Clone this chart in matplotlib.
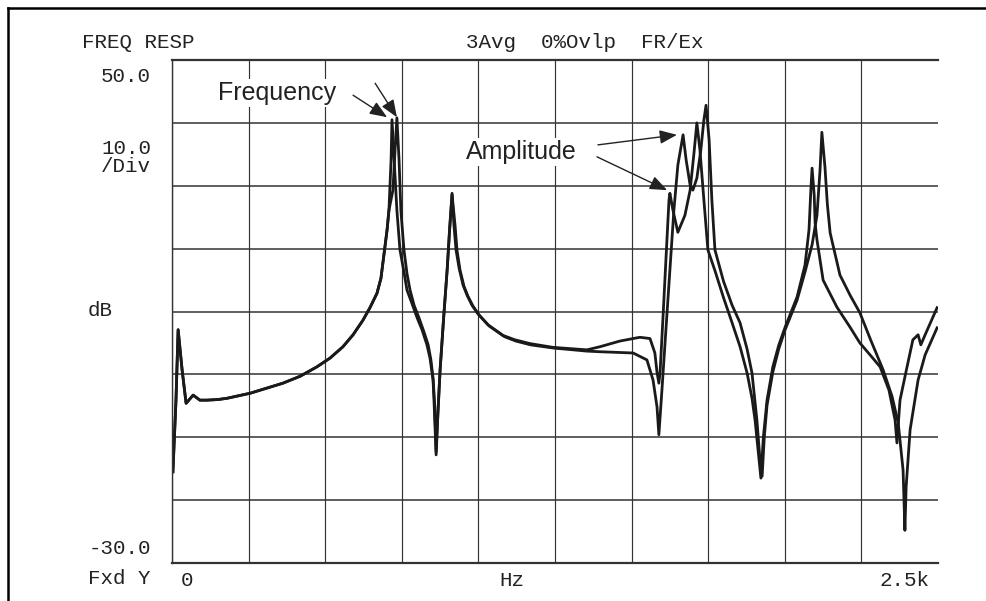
import matplotlib
matplotlib.use("Agg")
import matplotlib.pyplot as plt
from matplotlib import font_manager
from matplotlib.lines import Line2D

W, H = 987, 601

# ---- data (Hz, dB) ----
low_f = [3, 13, 20, 33, 46, 69, 91, 114, 150, 180, 255, 362, 418, 473, 516, 558, 591,
         623, 646, 669, 682, 695, 702, 708]
low_db = [-15.5, -4.1, 7.1, 0.7, -4.6, -3.3, -4.1, -4.1, -4.0, -3.8, -3.0, -1.4, -0.3, 1.2,
          2.6, 4.4, 6.3, 8.6, 10.6, 12.9, 15.3, 20.3, 23.0, 26.1]

a_f = [715, 718, 725, 734, 744, 757, 767, 783, 800, 816, 832, 842, 852, 855, 862,
       868, 875, 887, 898, 906, 914, 920, 927, 937, 950, 963, 979, 999, 1031, 1080, 1119,
       1168, 1243, 1354, 1397, 1462, 1527, 1560,
       1576, 1583, 1589, 1593, 1602, 1612, 1622, 1625, 1635, 1651, 1674, 1691, 1703, 1713,
       1723, 1736, 1749, 1772, 1800, 1828, 1854, 1877, 1893, 1903, 1916, 1922,
       1930, 1942, 1961, 1980, 2001, 2040, 2066, 2079, 2085, 2089, 2096, 2099, 2105, 2125,
       2170, 2213, 2245, 2280, 2311, 2340, 2360, 2366, 2376, 2399, 2418, 2435, 2444, 2458,
       2497]
a_db = [34.1, 40.5, 34.1, 26.1, 19.8, 16.3, 13.4, 11.3, 9.0, 7.1, 4.7, 2.6, -0.9, -4.1, -12.8,
        -6.0, 0.7, 9.3, 16.6, 23.0, 28.8, 23.8, 19.8, 16.9, 14.2, 12.6, 11.0, 9.6, 7.9, 6.2,
        5.5, 4.9, 4.3, 3.9, 4.4, 5.3, 5.9, 5.7,
        3.4, 0.3, -1.4, 0.4, 8.6, 18.2, 27.7, 28.8, 26.1, 22.6, 25.3, 29.3, 34.9, 40.0,
        35.7, 27.7, 19.8, 16.5, 12.2, 8.2, 4.4, 0.2, -3.8, -7.3, -13.6, -16.5,
        -10.0, -4.1, 1.2, 4.6, 7.5, 12.3, 17.4, 23.0, 29.3, 32.8, 28.5, 24.0, 21.4, 15.0,
        10.7, 7.5, 5.0, 3.0, 1.2, -2.5, -7.3, -10.9, -4.1, 1.2, 5.5, 6.3, 4.7, 6.3,
        10.6]

b_f = [721, 728, 734, 741, 747, 757, 767, 777, 790, 806, 822, 836, 845, 852, 857, 862,
       868, 875, 887, 898, 906, 914, 924, 930, 940, 953, 966, 983, 1003, 1035, 1085, 1122,
       1170, 1243, 1354, 1397, 1505, 1550, 1570,
       1583, 1589, 1599, 1612, 1625, 1638, 1651, 1668, 1678, 1691, 1700, 1713, 1726, 1736,
       1743, 1753, 1762, 1772, 1800, 1828, 1854, 1877, 1893, 1909, 1919, 1926,
       1933, 1942, 1961, 1980, 2001, 2040, 2066, 2089, 2105, 2115, 2121, 2131, 2139, 2148,
       2180, 2213, 2245, 2280, 2321, 2350, 2370, 2386, 2392, 2396, 2409, 2435, 2458, 2497]
b_db = [29.3, 35.7, 40.8, 34.1, 26.1, 19.8, 16.0, 13.4, 11.0, 9.0, 6.8, 4.7, 2.3, -0.6,
        -4.5, -12.3,
        -6.0, 0.7, 9.3, 16.6, 23.0, 28.6, 23.6, 19.8, 16.6, 14.0, 12.4, 10.8, 9.4, 7.7, 6.0,
        5.3, 4.7, 4.2, 3.7, 3.6, 3.4, 2.3, -0.9,
        -5.2, -9.6, -2.5, 7.1, 16.6, 26.1, 33.3, 38.1, 34.1, 30.1, 29.3, 31.2, 35.7, 40.5,
        42.8, 37.3, 27.7, 19.8, 14.8, 11.0, 8.2, 4.0, 0.2, -7.3, -13.6, -16.2,
        -10.0, -4.9, 0.4, 4.0, 7.1, 11.8, 16.3, 20.6, 25.3, 32.5, 38.5, 33.0, 27.0, 22.5,
        15.8, 12.6, 9.8, 5.5, 0.7, -3.5, -7.7, -15.2, -24.8, -17.9, -8.8, -0.9, 3.1, 7.4]

x_ticks = [0, 250, 500, 750, 1000, 1250, 1500, 1750, 2000, 2250]
y_ticks = [-30, -20, -10, 0, 10, 20, 30, 40, 50]

# ---- fonts ----
def has_font(name):
    try:
        font_manager.findfont(name, fallback_to_default=False)
        return True
    except Exception:
        return False

narrow = "Liberation Sans Narrow" if has_font("Liberation Sans Narrow") else "Liberation Sans"
ann_size = 21 if narrow == "Liberation Sans Narrow" else 18
mono = "Liberation Mono"

fig = plt.figure(figsize=(W / 100, H / 100), dpi=100)
fig.patch.set_facecolor("white")

L, R, T, B = 172, 938, 60, 563
ax = fig.add_axes([L / W, 1 - B / H, (R - L) / W, (B - T) / H])
ax.set_xlim(0, 2500)
ax.set_ylim(-30, 50)
ax.set_xticks(x_ticks)
ax.set_yticks(y_ticks)
ax.tick_params(length=0, labelbottom=False, labelleft=False)
ax.xaxis.grid(True, color="#333333", lw=0.85)
ax.yaxis.grid(True, color="#333333", lw=1.1)
ax.set_axisbelow(True)
ax.spines["right"].set_visible(False)
for s in ["top", "bottom"]:
    ax.spines[s].set_linewidth(1.6)
    ax.spines[s].set_color("#333333")
ax.spines["left"].set_linewidth(1.0)
ax.spines["left"].set_color("#333333")

curve_kw = dict(color="#1a1a1a", lw=2.0, solid_joinstyle="round")
ax.plot(low_f + a_f, low_db + a_db, **curve_kw)
ax.plot(low_f + b_f, low_db + b_db, **curve_kw)

# annotations
ann_kw = dict(family=narrow, fontsize=ann_size, color="#222222", ha="center", va="center",
              bbox=dict(fc="white", ec="none", pad=1.5))
arrow = dict(arrowstyle="-|>,head_length=0.7,head_width=0.28", lw=1.0, color="#222222",
             mutation_scale=15, shrinkA=0, shrinkB=0)
ax.text(343, 44.8, "Frequency", **ann_kw)
ax.annotate("", xy=(702, 40.9), xytext=(591, 44.4), arrowprops=arrow)
ax.annotate("", xy=(734, 40.9), xytext=(663, 46.3), arrowprops=arrow)
ax.text(1139, 35.4, "Amplitude", **ann_kw)
ax.annotate("", xy=(1648, 38.1), xytext=(1390, 36.5), arrowprops=arrow)
ax.annotate("", xy=(1616, 29.3), xytext=(1387, 34.6), arrowprops=arrow)

def ftxt(x, y, s, ha="left"):
    fig.text(x / W, 1 - y / H, s, family=mono, fontsize=15, color="#222222",
             ha=ha, va="center")

ftxt(82, 43, "FREQ RESP")
ftxt(585, 43, "3Avg  0%Ovlp  FR/Ex", ha="center")
ftxt(151, 77, "50.0", ha="right")
ftxt(151, 148, "10.0", ha="right")
ftxt(151, 166, "/Div", ha="right")
ftxt(88, 310, "dB")
ftxt(151, 549, "-30.0", ha="right")
ftxt(88, 578, "Fxd Y")
ftxt(187, 580, "0", ha="center")
ftxt(512, 580, "Hz", ha="center")
ftxt(930, 580, "2.5k", ha="right")

# outer frame
fig.add_artist(Line2D([8 / W, 8 / W], [0, 1 - 8 / H], color="black", lw=1.8,
                      transform=fig.transFigure))
fig.add_artist(Line2D([8 / W, 1], [1 - 8 / H, 1 - 8 / H], color="black", lw=1.8,
                      transform=fig.transFigure))

fig.savefig("out.png", dpi=100, facecolor="white")
